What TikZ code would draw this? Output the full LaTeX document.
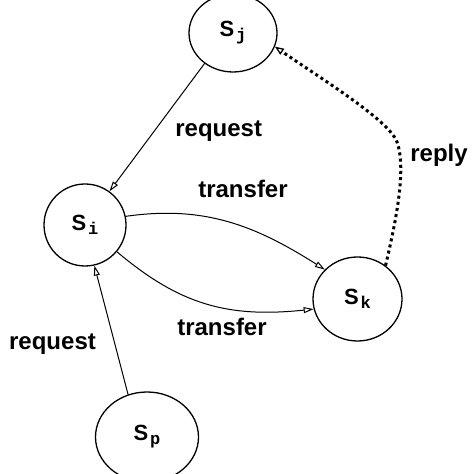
\documentclass[tikz,border=0pt]{standalone}
\usepackage{fontspec}
\setmainfont{Liberation Sans}
\newfontfamily\subfont{Liberation Mono}
\usetikzlibrary{shapes.geometric,arrows.meta}
\newcommand{\stname}[1]{\fontsize{22bp}{24bp}\selectfont\bfseries S\kern2bp\raisebox{-4bp}{\fontsize{17bp}{18bp}\subfont\bfseries #1}}

\begin{document}
\begin{tikzpicture}[x=1bp, y=1bp, line cap=round, line join=round,
    state/.style={ellipse, draw, line width=1.3bp, inner sep=0pt},
    msg/.style={line width=1bp, -{Triangle[open, length=10bp, width=6bp]}},
    back/.style={line width=3bp, line cap=butt, dash pattern=on 3bp off 3.2bp,
      -{Triangle[open, length=9bp, width=7bp, line width=1.3bp]}},
    lbl/.style={font=\fontsize{24bp}{28bp}\selectfont\bfseries, anchor=base, inner sep=0pt}]
    \clip (0,0) rectangle (474,474);
    % sites
    \node[state, minimum width=88bp, minimum height=78bp] (sj) at (233,441) {\stname{j}};
    \node[state, minimum width=82bp, minimum height=82bp] (si) at (85,249) {\stname{i}};
    \node[state, minimum width=89bp, minimum height=84bp] (sk) at (357.5,175) {\stname{k}};
    \node[state, minimum width=103bp, minimum height=90bp] (sp) at (147,37) {\stname{p}};
    % requests
    \draw[msg] (sj.-133) -- (si.54);
    \draw[msg] (sp.114) -- (si.-77);
    % transfers
    \draw[msg] (si.12) .. controls (205,269) and (256,248) .. (sk.138);
    \draw[msg] (si.-40) .. controls (180,169) and (228,156) .. (sk.193);
    % reply back to j
    \coordinate (rbend) at (397,332);
    \draw[back] (sk.50) .. controls (395,249) and (407,304) .. (rbend)
                .. controls (389,354) and (320,396) .. (sj.-18);
    % labels
    \node[lbl] (reqj) at (218.7,337) {request};
    \node[lbl] (transup) at (243,276) {transfer};
    \node[lbl] (replylbl) at (439,312) {reply};
    \node[lbl] (translow) at (222,138) {transfer};
    \node[lbl] (reqp) at (52.5,124) {request};
\end{tikzpicture}
\end{document}
